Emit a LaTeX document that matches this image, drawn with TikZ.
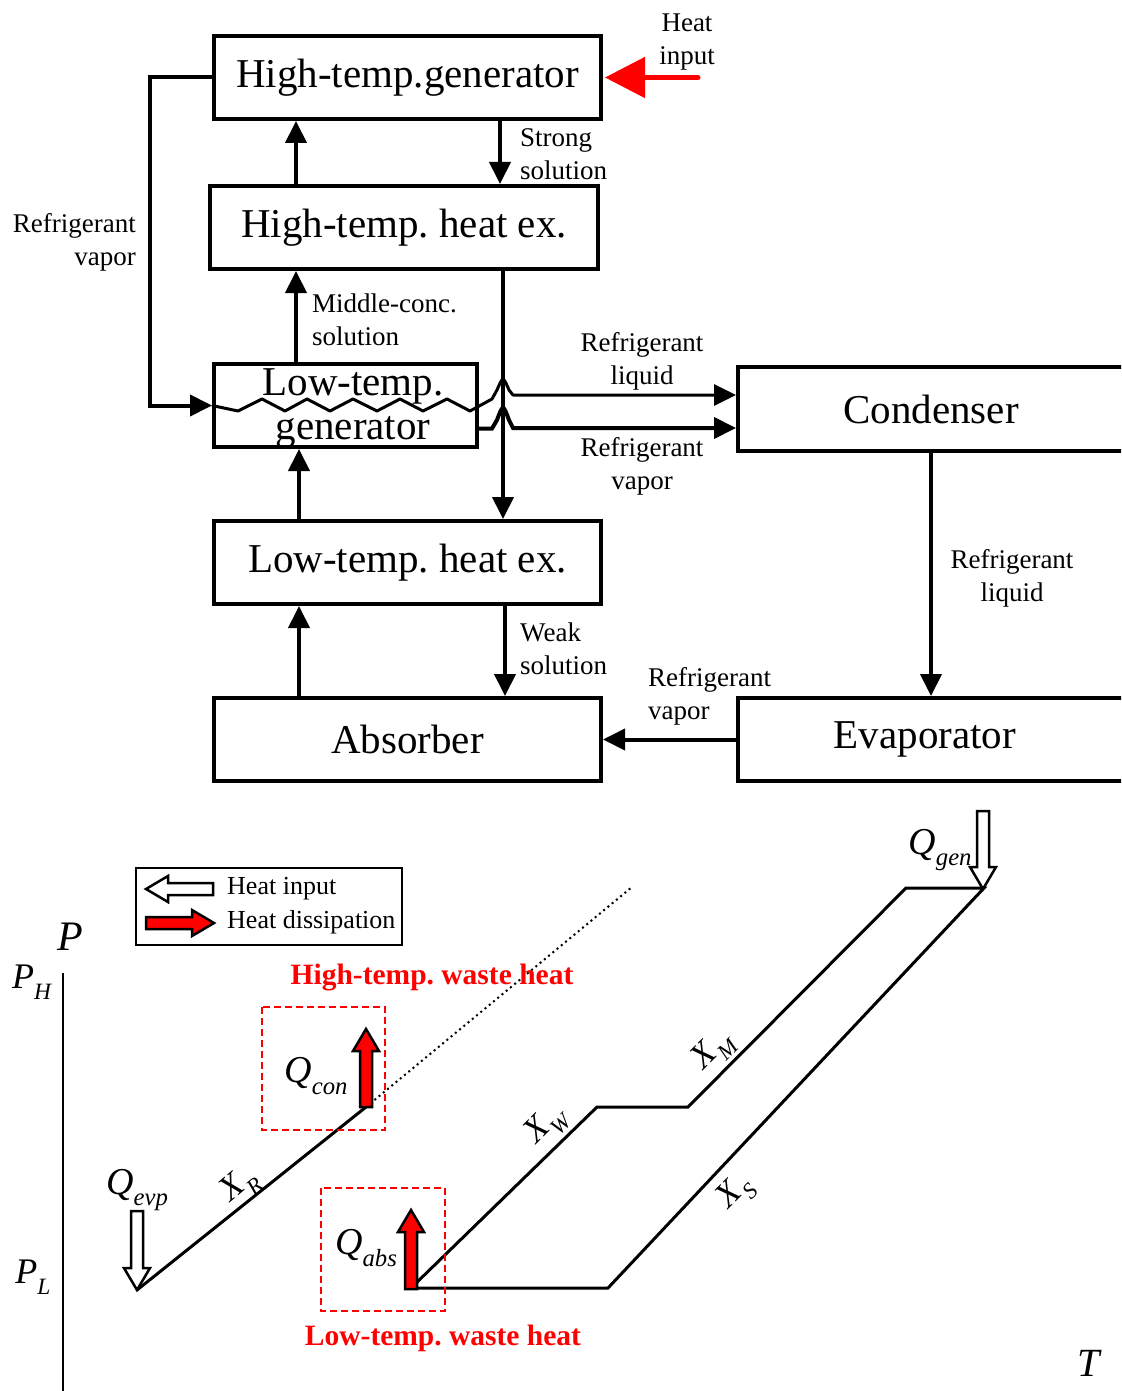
\documentclass[tikz,border=0pt]{standalone}
\usepackage{fontspec}
\setmainfont{Liberation Serif}
\usepackage{graphicx}
\usepackage{tikz}
\usetikzlibrary{arrows.meta}
\newcommand{\qlab}[2]{\textit{#1}\raisebox{-0.3em}{\scalebox{0.65}{\textit{#2}}}}
\newcommand{\heatarrow}[4]{%
  \draw[#1, line width=2.5pt, shift={#2}, rotate=#3]
    (0,0) -- (-22,13) -- (-22,6) -- (-#4,6) -- (-#4,-6) -- (-22,-6) -- (-22,-13) -- cycle;}

\begin{document}
\begin{tikzpicture}[
  x=1pt, y=-1pt,
  every node/.style = {inner sep=0pt},
  compbox/.style = {draw, line width=4pt, minimum width=387pt, minimum height=83pt,
    font=\fontsize{41}{44}\selectfont, align=center},
  pipe/.style = {line width=4pt, -{Triangle[length=22pt, width=21pt]}},
  note/.style = {font=\fontsize{27}{33}\selectfont},
  cycleline/.style = {line width=3pt},
  dotline/.style = {line width=2pt, dash pattern=on 2pt off 3.5pt},
  waste/.style = {font=\fontsize{29.5}{32}\selectfont\bfseries, text=red},
  wastebox/.style = {draw=red, line width=2.5pt, dash pattern=on 7pt off 4pt},
  sym/.style = {font=\fontsize{38}{40}\selectfont},
  xlab/.style = {font=\fontsize{35}{38}\selectfont},
  legendtext/.style = {font=\fontsize{26}{30}\selectfont, anchor=west}
]
  \useasboundingbox (0,0) rectangle (1121,1391);
  \clip (0,0) rectangle (1121,1391);

  % components
  \node[compbox] (htg) at (407.5,77.5) {High-temp.generator};
  \node[compbox, minimum width=388pt] (hthx) at (404,227.5) {High-temp.\ heat ex.};
  \node[compbox, minimum width=263pt] (ltg) at (345.5,405.5) {};
  \node[font=\fontsize{41}{44}\selectfont, align=center] (ltgtext) at (353,408) {Low-temp.\\generator};
  \node[compbox] (lthx) at (407.5,562.5) {Low-temp.\ heat ex.};
  \node[compbox] (absb) at (407.5,739.5) {Absorber};
  \node[compbox, minimum width=386pt, minimum height=84pt] (cond) at (931,409) {Condenser};
  \node[compbox, minimum width=386pt] (evap) at (931,739.5) {\hspace*{-12pt}Evaporator};

  \coordinate (colA) at (296,0);
  \coordinate (colB) at (299,0);
  \coordinate (colC) at (500,0);
  \coordinate (colD) at (503,0);
  \coordinate (colE) at (505,0);
  \coordinate (heatin) at (698,77.5);

  % solution and refrigerant lines
  \draw[pipe] (hthx.north -| colA) -- (htg.south -| colA);
  \draw[pipe] (htg.south -| colC) -- (hthx.north -| colC);
  \draw[pipe] (ltg.north -| colA) -- (hthx.south -| colA);
  \draw[pipe] (hthx.south -| colD) -- (lthx.north -| colD);
  \draw[pipe] (lthx.north -| colB) -- (ltg.south -| colB);
  \draw[pipe] (absb.north -| colB) -- (lthx.south -| colB);
  \draw[pipe] (lthx.south -| colE) -- (absb.north -| colE);
  \draw[pipe] (cond.south) -- (evap.north);
  \draw[pipe] (evap.west) -- (absb.east);
  \draw[pipe] (htg.west) -- ++(-62,0) |- (ltg.west);
  \draw[pipe, line width=3pt, line join=round] (ltg.west) -- (238,411) -- (262,399) -- (285,411)
    -- (307,399) -- (330,411) -- (353,399) -- (377,411) -- (400,399) -- (423,411)
    -- (447,399) -- (470,411) -- (492,399) -- (497,390) .. controls (503,376) .. (509,390)
    -- (513,395) -- ([yshift=14pt]cond.west);
  \draw[pipe] ([yshift=-23pt]ltg.east) -- (492,428.5) -- (497,420) .. controls (503,404) .. (509,420)
    -- (513,428) -- ([yshift=-19pt]cond.west);
  \draw[red, line width=5pt, line cap=round, -{Triangle[length=40pt, width=40pt]}]
    (heatin) -- ([xshift=2pt]htg.east);

  \node[note, align=center] (heatlbl) at (687,42.5) {Heat\\input};
  \node[note, align=left, anchor=west] (stronglbl) at (520,154.5) {Strong\\solution};
  \node[note, align=right, anchor=east] (vaplbl) at (136,242.5) {Refrigerant\\vapor};
  \node[note, align=left, anchor=west] (midlbl) at (312,319.5) {Middle-conc.\\solution};
  \node[note, align=center] (liqlbl) at (642,361.5) {Refrigerant\\liquid};
  \node[note, align=center] (vaplblb) at (642,466.5) {Refrigerant\\vapor};
  \node[note, align=center] (liqlblb) at (1012,578.5) {Refrigerant\\liquid};
  \node[note, align=left, anchor=west] (weaklbl) at (520,648.5) {Weak\\solution};
  \node[note, align=left, anchor=west] (vaplblc) at (648,696.5) {Refrigerant\\vapor};

  % P-T chart
  \node[draw, line width=1.3pt, minimum width=266pt, minimum height=77pt] (legend) at (269,906.5) {};
  \heatarrow{fill=white}{(146,889)}{180}{67}
  \heatarrow{fill=red}{(214,923)}{0}{68}
  \node[legendtext] (inlbl) at (227,889) {Heat input};
  \node[legendtext] (dislbl) at (227,922) {Heat dissipation};

  \draw[line width=1.3pt] (63,973) -- (63,1391);
  \node[font=\fontsize{42}{44}\selectfont] (paxis) at (70,937) {\textit{P}};
  \node[font=\fontsize{36}{38}\selectfont] (ph) at (32,982) {\qlab{P}{H}};
  \node[font=\fontsize{36}{38}\selectfont] (pl) at (33,1277) {\qlab{P}{L}};
  \node[font=\fontsize{40}{42}\selectfont] (taxis) at (1090,1363) {\textit{T}};

  \coordinate (evp) at (137,1290);
  \coordinate (con) at (366,1107);
  \coordinate (abspt) at (411,1288);
  \coordinate (wk) at (597,1107);
  \coordinate (md) at (688,1107);
  \coordinate (tl) at (906,888);
  \coordinate (gen) at (984,888);
  \coordinate (st) at (608,1288);
  \coordinate (dotend) at (632,887);

  \draw[dotline] (con) -- (dotend);
  \draw[cycleline] (evp) -- (con);
  \draw[cycleline] (abspt) -- (st) -- (gen) -- (tl) -- (md) -- (wk) -- cycle;

  \draw[wastebox] (262,1007) rectangle (385,1130);
  \draw[wastebox] (321,1188) rectangle (445,1311);

  \heatarrow{fill=red}{(366,1029)}{90}{78}
  \heatarrow{fill=red}{(411,1210)}{90}{79}
  \heatarrow{fill=white}{(137,1290)}{-90}{79}
  \heatarrow{fill=white}{(983,889)}{-90}{78}

  \node[waste] (hiwaste) at (432,978) {High-temp.\ waste heat};
  \node[waste] (lowaste) at (443,1338) {Low-temp.\ waste heat};

  \node[sym] (qcon) at (316,1076) {\qlab{Q}{con}};
  \node[sym] (qabs) at (366,1248) {\qlab{Q}{abs}};
  \node[sym] (qevp) at (137,1190) {\qlab{Q}{evp}};
  \node[sym] (qgen) at (940,850) {\qlab{Q}{gen}};

  \node[xlab, rotate=40] (xr) at (240,1186) {\qlab{X}{R}};
  \node[xlab, rotate=45] (xw) at (547,1125) {\qlab{X}{W}};
  \node[xlab, rotate=45] (xm) at (714,1051) {\qlab{X}{M}};
  \node[xlab, rotate=45] (xs) at (736,1193) {\qlab{X}{S}};
\end{tikzpicture}
\end{document}
